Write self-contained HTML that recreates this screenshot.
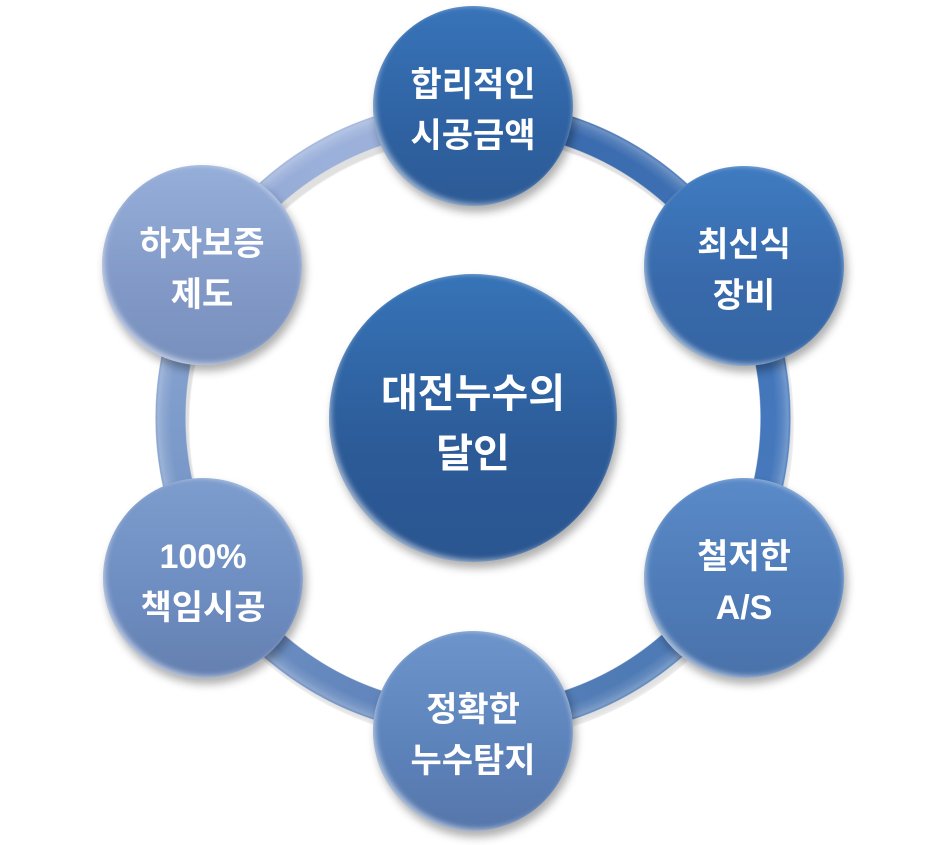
<!DOCTYPE html>
<html><head><meta charset="utf-8"><style>
html,body{margin:0;padding:0;background:#fff;}
body{width:945px;height:845px;position:relative;overflow:hidden;font-family:"Liberation Sans","Noto Sans CJK KR",sans-serif;}
.ring{position:absolute;left:155px;top:100px;width:636px;height:636px;border-radius:50%;
background:conic-gradient(from 0deg,#3A6AAE 0deg,#3C6DB0 30deg,#4477BC 90deg,#4F7BB5 150deg,#6588BE 210deg,#7E9CCB 270deg,#9BB0DA 330deg,#9DB2DB 360deg);
-webkit-mask:radial-gradient(circle at center,transparent 287px,#000 288px,#000 317px,transparent 318px);
mask:radial-gradient(circle at center,transparent 287px,#000 288px,#000 317px,transparent 318px);}
.ringhl{position:absolute;left:155px;top:100px;width:636px;height:636px;border-radius:50%;
background:radial-gradient(circle at center,transparent 288px,rgba(255,255,255,0.0) 302px,rgba(255,255,255,0.12) 310px,rgba(255,255,255,0.25) 315px,transparent 318px);}
.ringsh{position:absolute;left:158px;top:106px;width:636px;height:636px;border-radius:50%;
-webkit-mask:radial-gradient(circle at center,transparent 286px,#000 288px,#000 317px,transparent 321px);
background:rgba(0,0,0,0.12);filter:blur(3px);}
.c{position:absolute;border-radius:50%;display:flex;flex-direction:column;align-items:center;justify-content:center;color:#fff;font-weight:bold;text-align:center;
box-shadow:3px 6px 9px rgba(0,0,0,0.32), inset 5px -5px 6px -3px rgba(255,255,255,0.55), inset -3px 3px 4px -2px rgba(255,255,255,0.35);}
.s{width:200px;height:200px;font-size:34px;line-height:51px;}
.s span{display:block;position:relative;top:5px;white-space:nowrap;}
.m span{display:block;position:relative;top:6px;white-space:nowrap;}
.m{left:329px;top:274px;width:288px;height:288px;font-size:40px;line-height:60px;
background:linear-gradient(#3774B8,#2C5B98 60%,#2A5590);}
</style></head><body>
<div class="ringsh"></div>
<div class="ring"></div>
<div class="ringhl"></div>

<div class="c m"><span>대전누수의</span><span>달인</span></div>

<div class="c s" style="left:373px;top:6px;background:linear-gradient(#3874B9,#2F62A2 60%,#2C5A95);"><span>합리적인</span><span>시공금액</span></div>
<div class="c s" style="left:644px;top:166px;background:linear-gradient(#3F7BC1,#3869AA 60%,#3565A3);"><span>최신식</span><span>장비</span></div>
<div class="c s" style="left:644px;top:478px;background:linear-gradient(#5A8AC8,#4E7BB7 60%,#4A72AA);"><span>철저한</span><span>A/S</span></div>
<div class="c s" style="left:373px;top:631px;background:linear-gradient(#6D95CB,#5C82BA 60%,#5676AA);"><span>정확한</span><span>누수탐지</span></div>
<div class="c s" style="left:103px;top:478px;background:linear-gradient(#7D9DCE,#6D8CC0 60%,#6580B0);"><span>100%</span><span>책임시공</span></div>
<div class="c s" style="left:102px;top:165px;background:linear-gradient(#96AFD9,#8299C7 60%,#7890BD);"><span>하자보증</span><span>제도</span></div>
</body></html>
